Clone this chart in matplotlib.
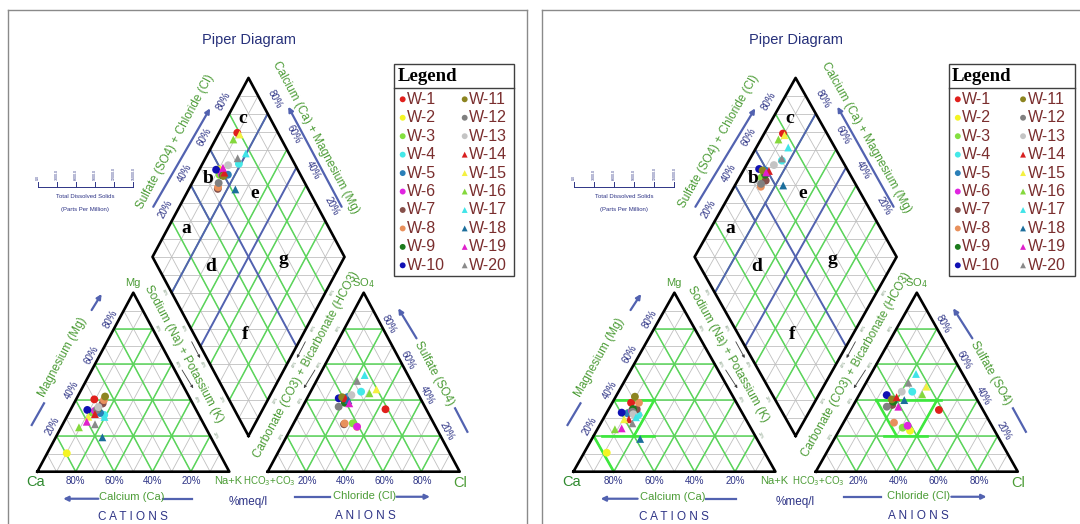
import numpy as np
import matplotlib.pyplot as plt
from matplotlib.patches import Rectangle

plt.rcParams["font.family"] = ["Liberation Sans", "DejaVu Sans"]

# wells
wells = ["W-%d" % i for i in range(1, 21)]
well_colors = ["#e0201c", "#f4f424", "#84e040", "#44e8e8", "#2a7fb8", "#e024e0", "#86504a",
               "#e8905c", "#1c7a1c", "#1010b4", "#8c8420", "#808080", "#c4c4c4",
               "#d82020", "#f4f040", "#84d83c", "#40e4e8", "#1c6e9c", "#e020cc", "#8a8a8a"]
well_markers = ["o"] * 13 + ["^"] * 7

# left diagram, % meq/l
mg_1 = [40.4, 10.3, 33.0, 31.7, 32.8, 34.0, 38.1, 40.0, 35.0, 34.5,
        42.0, 34.5, 36.1, 32.2, 30.7, 24.8, 30.6, 19.2, 27.9, 26.5]
nak_1 = [9.5, 10.2, 12.0, 19.0, 16.3, 13.0, 15.0, 14.7, 14.0, 8.8,
         14.3, 13.8, 13.8, 13.9, 11.2, 9.3, 19.7, 24.3, 11.8, 16.8]
so4_1 = [34.9, 25.0, 27.0, 44.7, 41.6, 25.1, 26.5, 27.0, 38.5, 41.0,
         41.6, 36.3, 42.8, 41.0, 46.0, 43.8, 54.0, 40.0, 38.2, 50.7]
cl_1 = [43.9, 34.0, 30.8, 26.3, 20.6, 34.0, 26.5, 26.6, 20.9, 16.5,
        18.0, 18.8, 22.2, 20.0, 33.6, 31.1, 23.5, 22.0, 23.4, 21.2]

# right diagram, % meq/l
mg_2 = [38.5, 10.6, 33.0, 31.7, 32.6, 34.0, 34.9, 38.5, 35.0, 33.0,
        41.9, 33.5, 32.1, 29.3, 29.3, 23.7, 30.4, 18.3, 24.2, 27.0]
nak_2 = [9.3, 11.2, 11.0, 16.3, 10.6, 12.0, 13.9, 13.2, 12.0, 7.4,
         9.5, 12.5, 13.6, 12.8, 10.5, 8.7, 15.8, 23.9, 11.8, 15.7]
so4_2 = [34.5, 22.9, 24.6, 44.7, 40.0, 25.7, 37.3, 27.4, 39.1, 42.8,
         40.4, 36.3, 44.7, 41.6, 47.5, 43.2, 54.6, 40.0, 36.3, 49.7]
cl_2 = [43.7, 35.2, 30.7, 25.4, 19.0, 32.6, 19.2, 25.0, 18.8, 13.7,
        17.4, 17.0, 20.2, 19.2, 31.0, 31.1, 22.3, 23.8, 22.7, 21.0]

pct_ticks = [20, 40, 60, 80]
tds_labels = ["0.0", "3000.0", "6000.0", "9000.0", "12000.0", "15000.0"]
region_names = ["a", "b", "c", "d", "e", "f", "g"]
region_xy = [(0.778, 1.36), (0.891, 1.639), (1.07, 1.974), (0.905, 1.149),
             (1.134, 1.555), (1.084, 0.764), (1.28, 1.187)]

TXT_NAVY = "#2e3486"
TXT_GREEN = "#4c9c36"
LINE_BLUE = "#5262b0"
GRID_GREEN = "#5ad65a"
GRID_GRAY = "#c0c0c0"
LEG_TXT = "#7a2e2e"

G = 0.2          # gap between the triangles (side = 1, height = 1)
A_L = np.degrees(np.arctan2(1, 0.5))   # left edges direction
A_R = -A_L


def cation_xy(mg, nak):
    return nak + mg / 2, mg


def anion_xy(so4, cl):
    return 1 + G + cl + so4 / 2, so4


def diamond_xy(camg, so4cl):
    return 1 + G / 2 - camg / 2 + so4cl / 2, G + camg + so4cl


def arrow(ax, tail, head, lw=1.6, ms=7, color=LINE_BLUE):
    ax.annotate("", xy=head, xytext=tail,
                arrowprops=dict(arrowstyle="-|>", color=color, lw=lw,
                                mutation_scale=ms, shrinkA=0, shrinkB=0))


def seg(ax, p, q, **kw):
    ax.plot([p[0], q[0]], [p[1], q[1]], **kw)


def draw_panel(ax, mg, nak, so4, cl, highlight=False):
    mg, nak, so4, cl = [np.array(v) / 100 for v in (mg, nak, so4, cl)]
    fine = np.arange(1, 10) / 10
    coarse = np.array(pct_ticks) / 100

    # triangle grids
    for x0 in (0, 1 + G):
        for vals, col, lw, z in ((fine, GRID_GRAY, 0.6, 1), (coarse, GRID_GREEN, 1.1, 2)):
            for v in vals:
                ax.plot([x0 + v / 2, x0 + 1 - v / 2], [v, v], color=col, lw=lw, zorder=z)
                ax.plot([x0 + v, x0 + v + (1 - v) / 2], [0, 1 - v], color=col, lw=lw, zorder=z)
                ax.plot([x0 + v, x0 + v / 2], [0, v], color=col, lw=lw, zorder=z)

    # diamond grid
    for s in np.arange(1, 20) / 10:
        w = min(s, 2 - s) / 2
        ax.plot([1 + G / 2 - w, 1 + G / 2 + w], [G + s, G + s], color=GRID_GRAY, lw=0.6, zorder=1)
    for vals, col, lw, z in ((fine, GRID_GRAY, 0.6, 1), (coarse, GRID_GREEN, 1.1, 2)):
        for v in vals:
            seg(ax, diamond_xy(v, 0), diamond_xy(v, 1), color=col, lw=lw, zorder=z)
            seg(ax, diamond_xy(0, v), diamond_xy(1, v), color=col, lw=lw, zorder=z)

    if highlight:
        hk = dict(color="#3ee83e", lw=1.9, zorder=2.5)
        seg(ax, cation_xy(0.4, 0.0), cation_xy(0.4, 0.2), **hk)
        seg(ax, cation_xy(0.2, 0.04), cation_xy(0.2, 0.3), **hk)
        seg(ax, cation_xy(0.4, 0.2), cation_xy(0.2, 0.2), **hk)
        seg(ax, cation_xy(0.2, 0.0), cation_xy(0.0, 0.2), **hk)
        seg(ax, anion_xy(0.4, 0.1), anion_xy(0.4, 0.42), **hk)
        seg(ax, anion_xy(0.2, 0.24), anion_xy(0.2, 0.45), **hk)
        seg(ax, anion_xy(0.4, 0.4), anion_xy(0.2, 0.4), **hk)
        seg(ax, anion_xy(0.4, 0.1), anion_xy(0.2, 0.3), **hk)

    # classification lines
    bk = dict(color=LINE_BLUE, lw=1.4, zorder=3)
    for v in (0.5, 0.8):
        seg(ax, diamond_xy(v, 0), diamond_xy(v, 1), **bk)
    seg(ax, diamond_xy(0, 0.5), diamond_xy(0.8, 0.5), **bk)
    for v in (0.4, 0.6):
        seg(ax, diamond_xy(0.8, v), diamond_xy(1, v), **bk)

    # outlines
    ax.plot([0, 1, 0.5, 0], [0, 0, 1, 0], color="black", lw=1.9, zorder=4)
    ax.plot([1 + G, 2 + G, 1.5 + G, 1 + G], [0, 0, 1, 0], color="black", lw=1.9, zorder=4)
    d = np.array([diamond_xy(0, 0), diamond_xy(1, 0), diamond_xy(1, 1), diamond_xy(0, 1), diamond_xy(0, 0)])
    ax.plot(d[:, 0], d[:, 1], color="black", lw=1.9, zorder=4)

    # samples
    cx, cy = cation_xy(mg, nak)
    axx, ayy = anion_xy(so4, cl)
    dx, dy = diamond_xy(1 - nak, so4 + cl)
    for i in range(len(wells)):
        for x, y in ((cx, cy), (axx, ayy), (dx, dy)):
            ax.scatter(x[i], y[i], s=32, marker=well_markers[i], color=well_colors[i],
                       edgecolors="none", zorder=5)

    # percent labels
    tk = dict(color=TXT_NAVY, fontsize=7, ha="center", va="center")
    rk = dict(tk, rotation_mode="anchor", transform_rotates_text=True)
    mk = dict(color="#6a8a6a", fontsize=2.6, ha="center", va="center",
              rotation_mode="anchor", transform_rotates_text=True)
    for p in pct_ticks:
        f = p / 100
        lab = "%d%%" % p
        ax.text(1 - f, -0.052, lab, **tk)
        ax.text(1 + G + f + 0.008, -0.052, lab, **tk)
        ax.text(f / 2 - 0.02, f + 0.055, lab, rotation=A_L, **rk)
        ax.text(2 + G - f / 2 + 0.031, f + 0.025, lab, rotation=A_R, **rk)
        x, y = diamond_xy(1, f)
        ax.text(x - 0.031, y + 0.069, lab, rotation=A_L, **rk)
        x, y = diamond_xy(f, 1)
        ax.text(x + 0.035, y + 0.083, lab, rotation=A_R, **rk)
        # tiny marks on the inner edges
        x, y = diamond_xy(f, 0)
        ax.text(x - 0.04, y, lab, rotation=A_R, **mk)
        ax.text(1 - f / 2 + 0.028, f, lab, rotation=A_R, **mk)
        x, y = diamond_xy(0, f)
        ax.text(x + 0.04, y, lab, rotation=A_L, **mk)
        ax.text(1 + G + f / 2 - 0.028, f, lab, rotation=A_L, **mk)

    # axis names
    kw = dict(color=TXT_GREEN, fontsize=8.5, ha="center", va="center",
              rotation_mode="anchor", transform_rotates_text=True)
    ax.text(0.131, 0.638, "Magnesium (Mg)", rotation=A_L, **kw)
    ax.text(0.765, 0.656, "Sodium (Na) + Potassium (K)", rotation=A_R, **kw)
    ax.text(1.403, 0.60, "Carbonate (CO3) + Bicarbonate (HCO3)", rotation=A_L, **kw)
    ax.text(2.067, 0.55, "Sulfate (SO4)", rotation=A_R, **kw)
    ax.text(0.721, 1.843, "Sulfate (SO4) + Chloride (Cl)", rotation=A_L, **kw)
    ax.text(1.451, 1.867, "Calcium (Ca) + Magnesium (Mg)", rotation=A_R, **kw)
    ax.text(0.49, -0.14, "Calcium (Ca)", color=TXT_GREEN, fontsize=8, ha="center", va="center")
    ax.text(1.707, -0.136, "Chloride (Cl)", color=TXT_GREEN, fontsize=8, ha="center", va="center")

    # blue arrows
    ax.plot([-0.029, 0.035], [0.261, 0.382], color=LINE_BLUE, lw=1.6)
    arrow(ax, (0.283, 0.903), (0.335, 0.993))
    arrow(ax, (0.318, -0.151), (0.135, -0.151))
    ax.plot([0.655, 0.804], [-0.151, -0.151], color=LINE_BLUE, lw=1.6)
    ax.plot([1.342, 1.524], [-0.14, -0.14], color=LINE_BLUE, lw=1.6)
    arrow(ax, (1.871, -0.14), (2.045, -0.14))
    arrow(ax, (1.975, 0.745), (1.88, 0.913))
    ax.plot([2.176, 2.24], [0.354, 0.223], color=LINE_BLUE, lw=1.6)
    arrow(ax, (0.604, 1.48), (0.90, 2.03))
    arrow(ax, (1.585, 1.48), (1.307, 2.039))
    for t, h in (((0.804, 0.726), (0.848, 0.635)), ((0.754, 0.568), (0.812, 0.466)),
                 ((1.396, 0.726), (1.352, 0.635)), ((1.446, 0.568), (1.388, 0.466))):
        arrow(ax, t, h, lw=0.6, ms=4, color="#404040")

    # corner names
    ax.text(-0.01, -0.06, "Ca", color="#2f8a2f", fontsize=10.5, ha="center", va="center")
    ax.text(0.995, -0.052, "Na+K", color=TXT_GREEN, fontsize=8, ha="center", va="center")
    ax.text(0.497, 1.053, "Mg", color=TXT_GREEN, fontsize=8, ha="center", va="center")
    ax.text(1.70, 1.053, "SO$_4$", color=TXT_GREEN, fontsize=8, ha="center", va="center")
    ax.text(1.345, -0.052, "HCO$_3$+CO$_3$", color=TXT_GREEN, fontsize=7, ha="right", va="center")
    ax.text(2.2, -0.062, "Cl", color=TXT_GREEN, fontsize=10.5, ha="center", va="center")

    ax.text(1.1, 2.41, "Piper Diagram", color="#26307a", fontsize=10.5, ha="center", va="center")
    ax.text(1.1, -0.17, "%meq/l", color=TXT_NAVY, fontsize=8.5, ha="center", va="center")
    ax.text(0.5, -0.251, "C A T I O N S", color=TXT_NAVY, fontsize=8.5, ha="center", va="center")
    ax.text(1.707, -0.246, "A N I O N S", color=TXT_NAVY, fontsize=8.5, ha="center", va="center")

    for name, (x, y) in zip(region_names, region_xy):
        ax.text(x, y, name, fontsize=14, fontweight="bold", family="Liberation Serif",
                ha="center", va="center", zorder=6)

    # TDS scale
    tx = np.linspace(0.003, 0.5, len(tds_labels))
    ax.plot([tx[0], tx[-1]], [1.59, 1.59], color=TXT_NAVY, lw=0.7)
    for x, lab in zip(tx, tds_labels):
        ax.plot([x, x], [1.59, 1.618], color=TXT_NAVY, lw=0.7)
        ax.text(x, 1.63, lab, fontsize=2.6, color=TXT_NAVY, rotation=90, ha="center", va="bottom")
    ax.text(0.25, 1.535, "Total Dissolved Solids", fontsize=4.3, color=TXT_NAVY, ha="center", va="center")
    ax.text(0.25, 1.463, "(Parts Per Million)", fontsize=4.3, color=TXT_NAVY, ha="center", va="center")

    # legend box
    ax.add_patch(Rectangle((1.858, 1.093), 0.625, 1.185, facecolor="white",
                           edgecolor="#404040", lw=1.0, zorder=6))
    ax.plot([1.858, 2.483], [2.143, 2.143], color="#404040", lw=1.0, zorder=7)
    ax.text(1.875, 2.21, "Legend", fontsize=13.5, fontweight="bold", family="Liberation Serif",
            ha="left", va="center", zorder=7)
    for i, name in enumerate(wells):
        col, row = divmod(i, 10)
        y = (471.7 - (99.3 + row * 18.45)) / 179
        xm = 1.903 + col * 0.323
        ax.scatter(xm, y, s=18, marker=well_markers[i], color=well_colors[i],
                   edgecolors="none", zorder=7)
        ax.text(xm + 0.022, y, name, fontsize=11.5, color=LEG_TXT, ha="left", va="center", zorder=7)


fig = plt.figure(figsize=(10.8, 5.24), dpi=100)
YLIM = ((471.7 - 524) / 179, (471.7 - 10) / 179)
XLIM = (-0.155, 2.55)
for x0, side, data, hl in ((37.3, 192, (mg_1, nak_1, so4_1, cl_1), False),
                           (573.4, 202, (mg_2, nak_2, so4_2, cl_2), True)):
    left = x0 + side * XLIM[0]
    width = side * (XLIM[1] - XLIM[0])
    ax = fig.add_axes([left / 1080, 0, width / 1080, 514 / 524])
    ax.set_xlim(*XLIM)
    ax.set_ylim(*YLIM)
    ax.set_xticks([])
    ax.set_yticks([])
    for s in ("left", "right", "top"):
        ax.spines[s].set_color("#8a8a8a")
        ax.spines[s].set_linewidth(1.0)
    ax.spines["bottom"].set_visible(False)
    draw_panel(ax, *data, highlight=hl)

fig.savefig("out.png", dpi=100)
